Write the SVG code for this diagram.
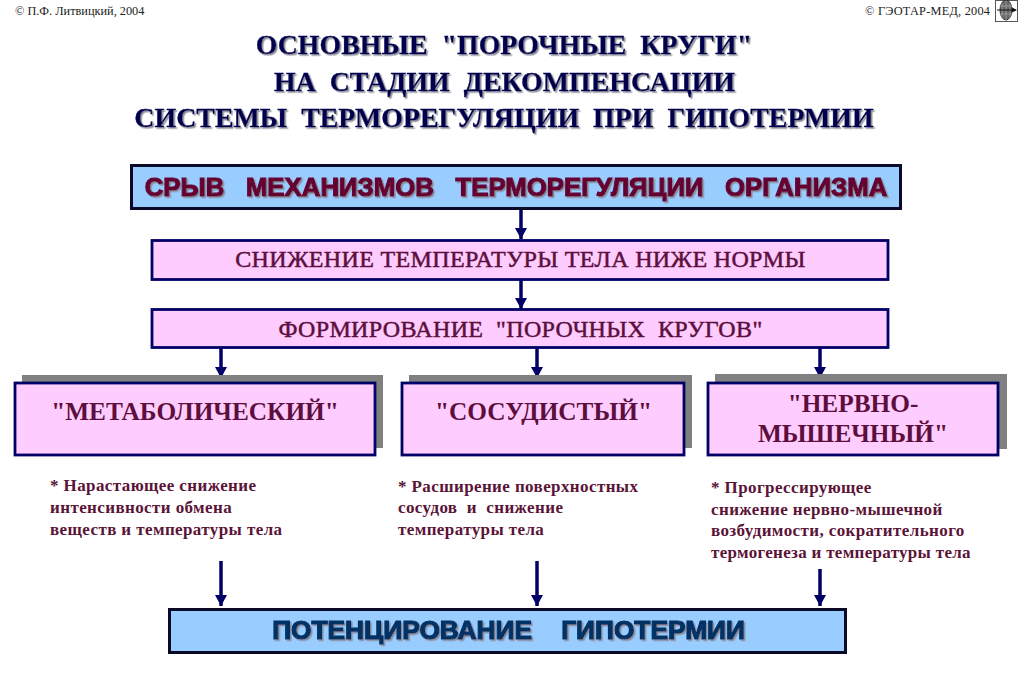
<svg xmlns="http://www.w3.org/2000/svg" width="1024" height="681" viewBox="0 0 1024 681">
<style>
text{font-family:"Liberation Serif","Times New Roman",serif;white-space:pre}
.c{font-size:12.3px;fill:#222}
.t{font-size:27.9px;font-weight:bold;fill:#000050;stroke:#000050;stroke-width:.3;text-anchor:middle;filter:url(#sh)}
.b{fill:#99ccff;stroke:#0a0a28;stroke-width:3}
.p{fill:#ffccff;stroke:#000066;stroke-width:2.800}
.s{fill:#808080}
.h{font-family:"Liberation Sans",Arial,sans-serif;font-size:25.8px;font-weight:bold;text-anchor:middle;stroke-width:1.2;filter:url(#sh)}
.m{font-size:24px;fill:#5c0f3c;stroke:#5c0f3c;stroke-width:.5;letter-spacing:.35px;text-anchor:middle}
.n{font-size:25.3px;font-weight:bold;fill:#5c0f3c;text-anchor:middle}
.d{font-size:17px;font-weight:bold;fill:#5a1438;letter-spacing:.4px}
.a{stroke:#000066;stroke-width:3.5;fill:none;marker-end:url(#ah)}
</style>
<defs>
<filter id="sh" x="-5%" y="-20%" width="110%" height="140%"><feDropShadow dx="1.5" dy="1.5" stdDeviation=".5" flood-color="#8a8a9a"/></filter>
<marker id="ah" markerUnits="userSpaceOnUse" markerWidth="12" markerHeight="12" refX="11" refY="6" orient="auto"><path d="M0 0L11 6L0 12Z" fill="#000066"/></marker>
</defs>
<rect width="1024" height="681" fill="#fff"/>
<g id="credits">
<text class="c" x="15" y="15">© П.Ф. Литвицкий, 2004</text>
<text class="c" x="865" y="15" textLength="125">© ГЭОТАР-МЕД, 2004</text>
</g>
<g id="logo" fill="none" stroke="#333" stroke-width="1">
<rect x="995.500" y="0.500" width="22" height="21" stroke="#555"/>
<ellipse cx="1006" cy="10" rx="6" ry="10" fill="#666"/>
<path d="M1002 3V18M1006 1V20M1010 3V18M1000 6H1012M1000 14H1012" stroke="#bbb" stroke-width=".6"/>
<path d="M997 10H1016" stroke="#111"/>
<path d="M1017 10L1012 7.500V12.500Z" fill="#111" stroke="none"/>
</g>
<g id="title">
<text class="t" x="504" y="54">ОСНОВНЫЕ  "ПОРОЧНЫЕ  КРУГИ"</text>
<text class="t" x="504.500" y="91">НА  СТАДИИ  ДЕКОМПЕНСАЦИИ</text>
<text class="t" x="504" y="127">СИСТЕМЫ  ТЕРМОРЕГУЛЯЦИИ  ПРИ  ГИПОТЕРМИИ</text>
</g>
<g id="connectors">
<path class="a" d="M521 210V239"/>
<path class="a" d="M521 280V309"/>
<path class="a" d="M221 348V378"/>
<path class="a" d="M537 348V378"/>
<path class="a" d="M820 348V378"/>
<path class="a" d="M221 561V606"/>
<path class="a" d="M537 561V606"/>
<path class="a" d="M820 569V606"/>
</g>
<g id="node-srыv">
<rect class="b" x="131.500" y="165.500" width="769" height="43"/>
<text class="h" x="516" y="196" fill="#660033" stroke="#660033">СРЫВ   МЕХАНИЗМОВ   ТЕРМОРЕГУЛЯЦИИ   ОРГАНИЗМА</text>
</g>
<g id="node-snizhenie">
<rect class="p" x="152" y="240.500" width="736" height="39"/>
<text class="m" x="520.500" y="267">СНИЖЕНИЕ ТЕМПЕРАТУРЫ ТЕЛА НИЖЕ НОРМЫ</text>
</g>
<g id="node-formirovanie">
<rect class="p" x="152" y="309.500" width="736" height="38"/>
<text class="m" x="520.500" y="337">ФОРМИРОВАНИЕ  "ПОРОЧНЫХ  КРУГОВ"</text>
</g>
<g id="node-metabolic">
<rect class="s" x="22" y="375" width="361" height="73"/>
<rect class="p" x="15" y="383" width="360" height="72"/>
<text class="n" x="195" y="420">"МЕТАБОЛИЧЕСКИЙ"</text>
</g>
<g id="node-vascular">
<rect class="s" x="409" y="375" width="283" height="73"/>
<rect class="p" x="402" y="383" width="282" height="72"/>
<text class="n" x="543.500" y="420">"СОСУДИСТЫЙ"</text>
</g>
<g id="node-neuro">
<rect class="s" x="715" y="374" width="292" height="75"/>
<rect class="p" x="708" y="383" width="290" height="72"/>
<text class="n" x="853" y="412">"НЕРВНО-</text>
<text class="n" x="853" y="442">МЫШЕЧНЫЙ"</text>
</g>
<g id="desc-metabolic">
<text class="d" x="50" y="491">* Нарастающее снижение</text>
<text class="d" x="50" y="513">интенсивности обмена</text>
<text class="d" x="50" y="535">веществ и температуры тела</text>
</g>
<g id="desc-vascular">
<text class="d" x="398" y="492">* Расширение поверхностных</text>
<text class="d" x="398" y="513">сосудов  и  снижение</text>
<text class="d" x="398" y="535">температуры тела</text>
</g>
<g id="desc-neuro">
<text class="d" x="711" y="493">* Прогрессирующее</text>
<text class="d" x="711" y="515">снижение нервно-мышечной</text>
<text class="d" x="711" y="536">возбудимости, сократительного</text>
<text class="d" x="711" y="558" textLength="260">термогенеза и температуры тела</text>
</g>
<g id="node-potentiation">
<rect class="b" x="169.500" y="609.500" width="676" height="43"/>
<text class="h" x="508.500" y="639" fill="#003366" stroke="#003366" style="font-size:26.3px">ПОТЕНЦИРОВАНИЕ    ГИПОТЕРМИИ</text>
</g>
</svg>
